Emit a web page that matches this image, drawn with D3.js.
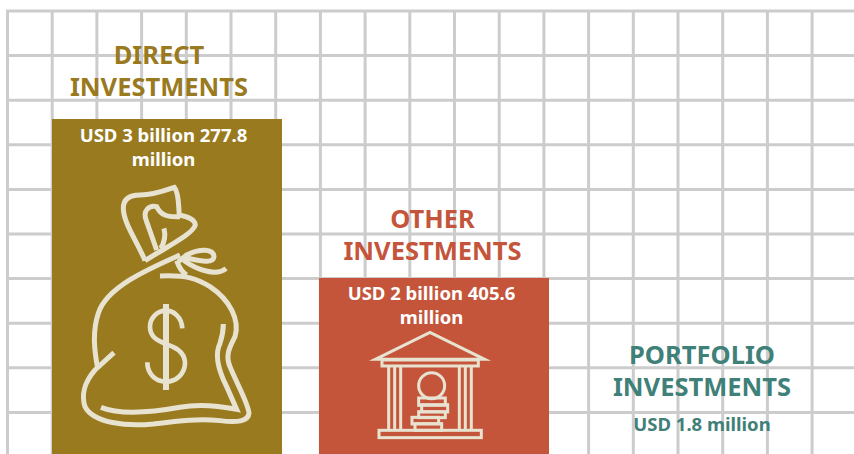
<!DOCTYPE html>
<html><head><meta charset="utf-8">
<script src="https://cdn.jsdelivr.net/npm/d3@7"></script>
<style>html,body{margin:0;padding:0;background:#fff}svg{display:block}text{font-family:"Noto Sans",sans-serif;font-weight:700;text-anchor:middle}</style>
</head><body><svg id="c" width="854" height="454"></svg>
<script>
const categories=["Direct","Other","Portfolio"];
const titleLines=[["DIRECT","INVESTMENTS"],["OTHER","INVESTMENTS"],["PORTFOLIO","INVESTMENTS"]];
const valueLines=[["USD 3 billion 277.8","million"],["USD 2 billion 405.6","million"],["USD 1.8 million"]];
const values=[3277.8,2405.6,1.8];
const colors=["#997a1f","#c4553b","#3f8078"];
const gridCols=d3.range(0,19), gridRows=d3.range(0,11);
const svg=d3.select("#c");
const gx=d3.scaleLinear().domain([0,1]).range([7.5,52.2]);
const gy=d3.scaleLinear().domain([0,1]).range([11,55.6]);
const g=svg.append("g").attr("stroke","#cccccc").attr("stroke-width",3);
g.selectAll(".v").data(gridCols).join("line").attr("x1",gx).attr("x2",gx).attr("y1",10).attr("y2",454);
g.selectAll(".h").data(gridRows).join("line").attr("y1",gy).attr("y2",gy).attr("x1",6).attr("x2",854);
const x=d3.scaleBand().domain(categories).range([52,816]).paddingInner(0.1386).paddingOuter(0);
const y=d3.scaleLinear().domain([0,3277.8]).range([716.5,119]);
svg.selectAll(".bar").data(categories).join("rect").attr("x",d=>x(d)).attr("width",x.bandwidth())
 .attr("y",(d,i)=>y(values[i])).attr("height",(d,i)=>y(0)-y(values[i])).attr("fill",(d,i)=>colors[i]);
const cx=c=>x(c)+x.bandwidth()/2;
const titleShift=[-8,-1.5,1], labelShift=[-3.5,-2.5,1];
const titleBase=[64,228,364], labelBase=[142,300,431];
categories.forEach((c,i)=>{
  titleLines[i].forEach((t,k)=>svg.append("text").attr("x",cx(c)+titleShift[i]).attr("y",titleBase[i]+k*32).attr("font-size",25.5).attr("fill",colors[i]).text(t));
  valueLines[i].forEach((t,k)=>svg.append("text").attr("x",cx(c)+labelShift[i]).attr("y",labelBase[i]+k*24).attr("font-size",18.5).attr("fill",i===2?colors[i]:"#fff").text(t));
});
const ink="#e8e3d0";
const bag=svg.append("g").attr("transform","translate(40,170) scale(0.3333)").attr("fill","none").attr("stroke",ink).attr("stroke-width",15);
["M315,272 C295,220 250,160 250,115 C250,85 270,75 300,75 C340,75 380,60 403,52 C418,70 415,110 418,135 C445,140 465,150 466,165 C460,190 390,225 315,272",
 "M350,240 L320,155 C305,120 330,105 350,110 C362,135 380,142 420,140",
 "M372,175 C378,200 372,220 362,235",
 "M420,255 C330,295 200,350 175,430 C155,490 165,550 172,590",
 "M222,548 L165,600 C130,640 125,680 135,710 C160,760 260,770 340,762 C420,752 480,745 540,752 C590,758 625,755 627,730 C625,700 590,640 570,590 C555,555 570,530 585,500 C600,450 570,390 510,350 C470,325 440,315 360,318",
 "M183,712 C240,735 330,728 420,712 C480,700 540,708 590,718 L560,650 C530,590 525,550 540,520 C550,490 550,480 550,462",
 "M410,272 C418,295 428,308 440,315",
 "M415,275 L440,255 C480,235 520,235 522,260 C520,285 470,270 430,262",
 "M430,270 C470,300 530,320 558,295"
].forEach(d=>bag.append("path").attr("d",d));
bag.append("path").attr("d","M378,402 V660").attr("stroke-width",18);
bag.append("path").attr("d","M427,475 C425,440 400,422 378,422 C350,422 330,445 330,470 C330,505 360,515 385,525 C415,535 435,550 435,580 C435,610 410,635 378,635 C345,635 322,610 322,577").attr("stroke-width",14);
const bank=svg.append("g").attr("transform","translate(310,270) scale(0.3333)").attr("fill","none").attr("stroke",ink).attr("stroke-width",9);
bank.append("path").attr("d","M196,268 L360,187 L524,268 Z").attr("stroke-miterlimit",10);
bank.append("rect").attr("x",216).attr("y",270).attr("width",289).attr("height",18);
[236,254,272,448,466,484].forEach(v=>bank.append("line").attr("x1",v).attr("x2",v).attr("y1",288).attr("y2",480));
bank.append("rect").attr("x",207).attr("y",481).attr("width",307).attr("height",22);
bank.append("circle").attr("cx",365).attr("cy",347).attr("r",39);
[[326,384,80,22],[335,404,78,22],[326,425,80,18],[306,442,80,20],[315,461,80,20]].forEach(r=>bank.append("rect").attr("x",r[0]).attr("y",r[1]).attr("width",r[2]).attr("height",r[3]));
</script></body></html>
